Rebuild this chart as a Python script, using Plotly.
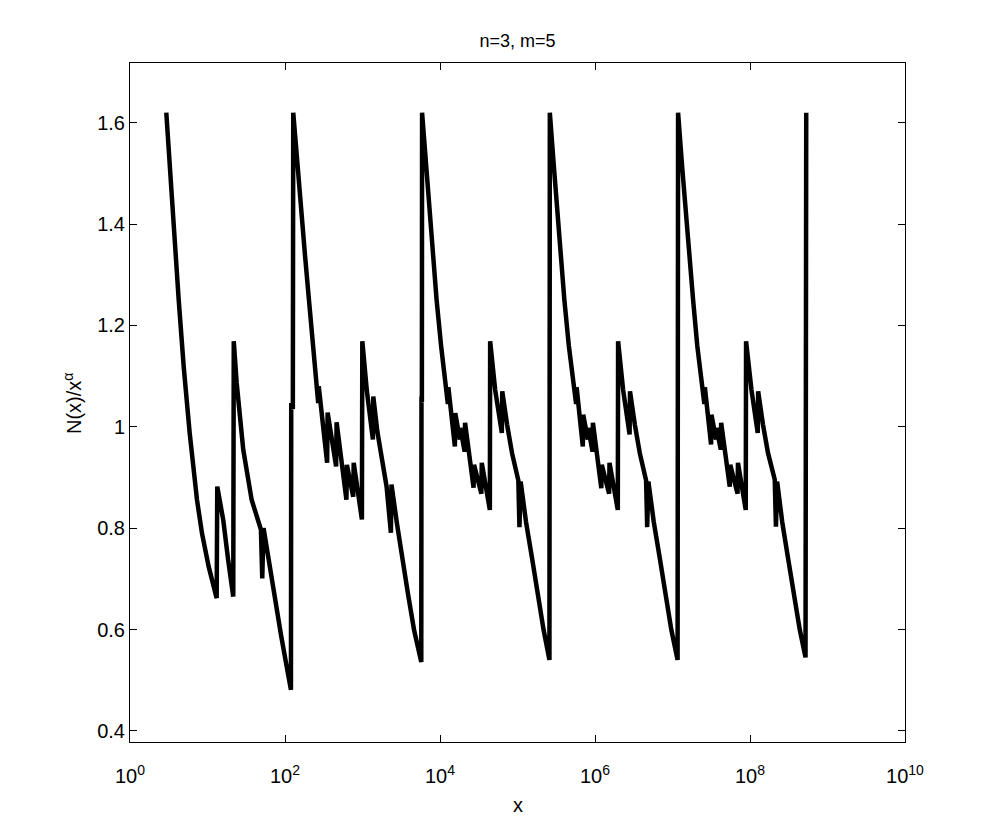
import numpy as np
import plotly.graph_objects as go

# Curve vertices: log10(x) and N(x)/x^alpha, one list per cycle
logx_c1 = [0.4682, 0.5121, 0.5675, 0.6281, 0.6926, 0.7700, 0.8642, 0.9287, 1.0151, 1.1183,
           1.1260, 1.2034, 1.2640, 1.3324, 1.3388, 1.3762, 1.4613, 1.5697, 1.6896, 1.7064,
           1.7232, 1.7993, 1.8702, 1.9476, 2.0121, 2.0766, 2.0804, 2.1011]
val_c1 = [1.620, 1.514, 1.383, 1.251, 1.119, 0.988, 0.856, 0.790, 0.724, 0.662,
          0.882, 0.816, 0.740, 0.665, 1.169, 1.087, 0.955, 0.856, 0.797, 0.701,
          0.800, 0.725, 0.659, 0.590, 0.535, 0.481, 1.047, 1.035]

logx_c2 = [2.1063, 2.1540, 2.2056, 2.2572, 2.3088, 2.3603, 2.4081, 2.4287, 2.4352, 2.4893,
           2.5435, 2.5499, 2.6054, 2.6596, 2.6660, 2.7279, 2.7924, 2.7989, 2.8801, 2.8866,
           2.9407, 2.9923, 2.9975, 3.0568, 3.1342, 3.1394, 3.1923, 3.2503, 3.3109, 3.3664,
           3.3741, 3.4438, 3.5250, 3.5895, 3.6669, 3.7585, 3.7611, 3.7662]
val_c2 = [1.620, 1.525, 1.430, 1.340, 1.251, 1.170, 1.100, 1.047, 1.080, 1.000,
          0.929, 1.028, 0.970, 0.922, 1.009, 0.930, 0.856, 0.925, 0.862, 0.929,
          0.870, 0.817, 1.169, 1.070, 0.975, 1.060, 0.990, 0.930, 0.882, 0.791,
          0.886, 0.810, 0.738, 0.668, 0.598, 0.536, 1.060, 1.048]

logx_c3 = [3.7688, 3.8204, 3.8720, 3.9107, 3.9558, 4.0139, 4.0629, 4.1016, 4.1080, 4.1919,
           4.1970, 4.2563, 4.2615, 4.3183, 4.3234, 4.4330, 4.4395, 4.5337, 4.5388, 4.6433,
           4.6471, 4.7116, 4.7981, 4.8032, 4.8651, 4.9296, 5.0109, 5.0251, 5.0405, 5.1102,
           5.1876, 5.2585, 5.3359, 5.4120, 5.4146]
val_c3 = [1.620, 1.515, 1.410, 1.335, 1.251, 1.160, 1.087, 1.045, 1.078, 0.961,
          1.027, 0.975, 0.998, 0.951, 1.008, 0.880, 0.925, 0.868, 0.929, 0.836,
          1.169, 1.073, 0.988, 1.070, 1.005, 0.948, 0.894, 0.802, 0.892, 0.812,
          0.741, 0.672, 0.600, 0.540, 1.075]

logx_c4 = [5.4172, 5.4688, 5.5204, 5.5591, 5.6043, 5.6623, 5.7178, 5.7564, 5.7629, 5.8429,
           5.8480, 5.9073, 5.9125, 5.9680, 5.9731, 6.0815, 6.0879, 6.1821, 6.1872, 6.2943,
           6.2981, 6.3626, 6.4465, 6.4516, 6.5135, 6.5780, 6.6593, 6.6734, 6.6889, 6.7586,
           6.8359, 6.9069, 6.9843, 7.0655, 7.0681]
val_c4 = [1.620, 1.515, 1.410, 1.335, 1.251, 1.160, 1.083, 1.045, 1.078, 0.961,
          1.024, 0.975, 0.998, 0.951, 1.008, 0.879, 0.925, 0.868, 0.929, 0.836,
          1.169, 1.073, 0.985, 1.070, 1.005, 0.948, 0.894, 0.802, 0.892, 0.812,
          0.741, 0.672, 0.600, 0.540, 1.075]

logx_c5 = [7.0720, 7.1236, 7.1752, 7.2139, 7.2655, 7.3196, 7.3738, 7.4112, 7.4177, 7.4976,
           7.5028, 7.5621, 7.5673, 7.6227, 7.6279, 7.7388, 7.7452, 7.8394, 7.8446, 7.9452,
           7.9491, 8.0187, 8.1000, 8.1051, 8.1670, 8.2328, 8.3192, 8.3347, 8.3502, 8.4160,
           8.4908, 8.5643, 8.6417, 8.7165, 8.7204, 8.7255]
val_c5 = [1.620, 1.515, 1.410, 1.335, 1.251, 1.160, 1.080, 1.045, 1.078, 0.965,
          1.024, 0.975, 0.998, 0.955, 1.008, 0.882, 0.925, 0.868, 0.929, 0.836,
          1.169, 1.073, 0.988, 1.070, 1.005, 0.948, 0.896, 0.803, 0.892, 0.812,
          0.741, 0.672, 0.600, 0.545, 1.080, 1.620]

x_tick_vals = [1, 1e2, 1e4, 1e6, 1e8, 1e10]
x_tick_text = ["10<sup>0</sup>", "10<sup>2</sup>", "10<sup>4</sup>",
               "10<sup>6</sup>", "10<sup>8</sup>", "10<sup>10</sup>"]
y_tick_vals = [0.4, 0.6, 0.8, 1.0, 1.2, 1.4, 1.6]
y_tick_text = ["0.4", "0.6", "0.8", "1", "1.2", "1.4", "1.6"]

logx = np.concatenate([logx_c1, logx_c2, logx_c3, logx_c4, logx_c5])
vals = np.concatenate([val_c1, val_c2, val_c3, val_c4, val_c5])
x = 10.0 ** logx

FONT = "Liberation Sans, Arial, Helvetica, sans-serif"

fig = go.Figure()
fig.add_trace(go.Scatter(x=x, y=vals, mode="lines",
                         line=dict(color="black", width=4.5),
                         showlegend=False, hoverinfo="skip"))

axis_common = dict(showline=True, linecolor="black", linewidth=1, mirror="ticks",
                   ticks="inside", ticklen=7, tickwidth=1, tickcolor="black",
                   showgrid=False, zeroline=False,
                   tickfont=dict(family=FONT, size=20, color="black"))

fig.update_xaxes(type="log", range=[0, 10], tickmode="array",
                 tickvals=x_tick_vals, ticktext=x_tick_text,
                 ticklabelstandoff=16, **axis_common)
fig.update_yaxes(range=[0.378, 1.718], tickmode="array",
                 tickvals=y_tick_vals, ticktext=y_tick_text,
                 ticklabelstandoff=0, **axis_common)

# the page body has an 8 px margin, so the plot box is placed to land at
# x 130..905 and y 63..742 in the window
fig.update_layout(
    width=1000, height=834,
    margin=dict(l=122, r=103, t=55, b=100, pad=0),
    paper_bgcolor="white", plot_bgcolor="white",
    title=dict(text="n=3, m=5", x=0.5, xref="paper", xanchor="center",
               y=1 - 33 / 834, yref="container", yanchor="middle",
               font=dict(family=FONT, size=18, color="black")),
    annotations=[
        dict(text="x", xref="paper", yref="paper", x=0.5, y=-(805 - 742) / 679,
             xanchor="center", yanchor="middle", showarrow=False,
             font=dict(family=FONT, size=20, color="black")),
        dict(text="N(x)/x<sup>α</sup>", xref="paper", yref="paper",
             x=(72 - 130) / 775, y=(742 - 403) / 679, textangle=-90,
             xanchor="center", yanchor="middle", showarrow=False,
             font=dict(family=FONT, size=20, color="black")),
    ],
)

fig.write_html("out.html")
